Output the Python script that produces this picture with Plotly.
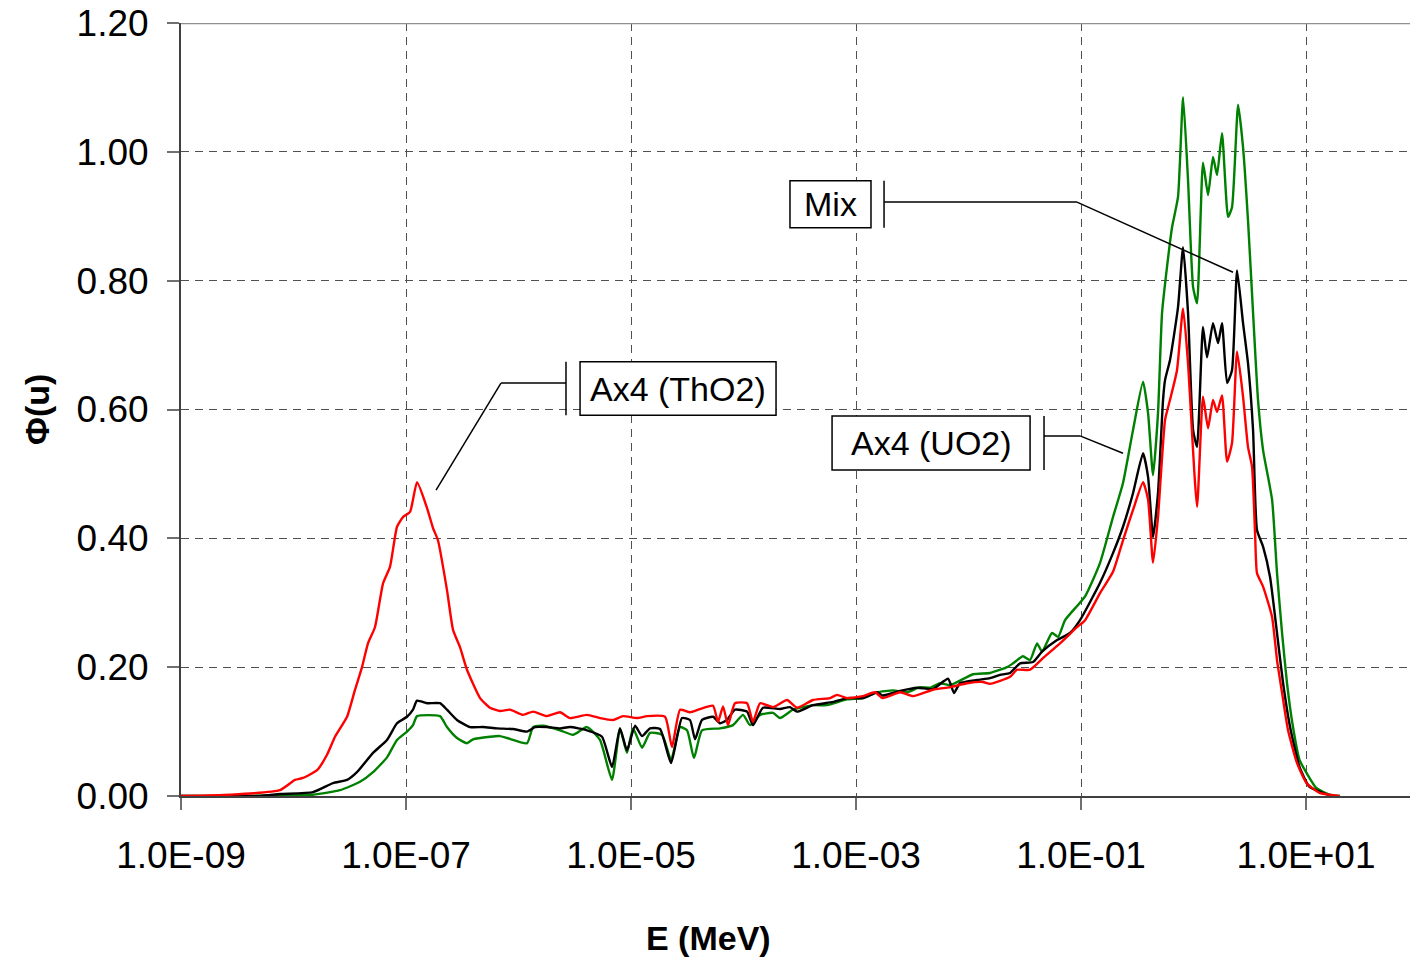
import numpy as np
import plotly.graph_objects as go

# Flux per unit lethargy vs. neutron energy; energies stored as log10(E / MeV)
thO2_logE = [-9.0, -8.564, -8.12, -7.987, -7.916, -7.791, -7.702, -7.631, -7.524, -7.453,
             -7.391, -7.338, -7.276, -7.204, -7.142, -7.080, -7.027, -6.964, -6.902, -6.813,
             -6.760, -6.716, -6.636, -6.582, -6.520, -6.458, -6.342, -6.253, -6.164, -6.076,
             -5.960, -5.871, -5.747, -5.631, -5.542, -5.391, -5.276, -5.160, -5.071, -4.947,
             -4.858, -4.698, -4.636, -4.564, -4.476, -4.387, -4.271, -4.227, -4.182, -4.138,
             -4.076, -3.969, -3.916, -3.853, -3.738, -3.613, -3.524, -3.382, -3.231, -3.169,
             -3.080, -2.938, -2.831, -2.764, -2.609, -2.493, -2.316, -2.164, -2.013, -1.871,
             -1.809, -1.631, -1.569, -1.453, -1.338, -1.187, -1.036, -0.964, -0.831, -0.716,
             -0.627, -0.538, -0.449, -0.404, -0.360, -0.316, -0.253, -0.209, -0.147, -0.093,
             -0.049, 0.031, 0.084, 0.129, 0.173, 0.209, 0.253, 0.298, 0.342, 0.387,
             0.440, 0.484, 0.520, 0.547, 0.564, 0.618, 0.698, 0.742, 0.787, 0.840,
             0.920, 1.004, 1.120, 1.298]
thO2_phi = [0.0, 0.002, 0.009, 0.025, 0.028, 0.040, 0.064, 0.092, 0.123, 0.165,
            0.200, 0.237, 0.262, 0.330, 0.356, 0.418, 0.433, 0.441, 0.487, 0.447,
            0.416, 0.397, 0.320, 0.258, 0.231, 0.196, 0.152, 0.137, 0.132, 0.134,
            0.126, 0.131, 0.124, 0.130, 0.121, 0.126, 0.121, 0.118, 0.124, 0.121,
            0.124, 0.123, 0.076, 0.134, 0.130, 0.135, 0.140, 0.115, 0.139, 0.110,
            0.144, 0.144, 0.115, 0.144, 0.138, 0.149, 0.137, 0.149, 0.152, 0.157,
            0.152, 0.155, 0.161, 0.152, 0.161, 0.155, 0.165, 0.169, 0.175, 0.177,
            0.174, 0.185, 0.196, 0.196, 0.214, 0.237, 0.262, 0.273, 0.315, 0.348,
            0.397, 0.444, 0.487, 0.460, 0.362, 0.433, 0.584, 0.615, 0.661, 0.757,
            0.672, 0.449, 0.620, 0.571, 0.615, 0.596, 0.622, 0.519, 0.548, 0.690,
            0.620, 0.542, 0.511, 0.408, 0.346, 0.325, 0.278, 0.211, 0.160, 0.102,
            0.051, 0.020, 0.005, 0.0]

mix_logE = [-9.0, -8.298, -8.12, -7.827, -7.649, -7.524, -7.436, -7.293, -7.169, -7.080,
            -6.991, -6.938, -6.902, -6.813, -6.698, -6.636, -6.547, -6.431, -6.316, -6.191,
            -6.049, -5.924, -5.853, -5.747, -5.631, -5.542, -5.391, -5.258, -5.169, -5.098,
            -5.036, -4.964, -4.902, -4.831, -4.742, -4.644, -4.547, -4.476, -4.431, -4.369,
            -4.271, -4.209, -4.147, -4.076, -3.969, -3.916, -3.827, -3.676, -3.587, -3.524,
            -3.382, -3.204, -3.080, -2.938, -2.813, -2.764, -2.609, -2.458, -2.316, -2.182,
            -2.129, -2.076, -1.924, -1.809, -1.720, -1.631, -1.542, -1.427, -1.347, -1.213,
            -1.098, -1.009, -0.831, -0.716, -0.627, -0.538, -0.449, -0.404, -0.360, -0.316,
            -0.271, -0.253, -0.209, -0.138, -0.093, -0.049, -0.004, 0.031, 0.084, 0.120,
            0.173, 0.218, 0.253, 0.298, 0.342, 0.387, 0.440, 0.484, 0.529, 0.564,
            0.618, 0.680, 0.742, 0.796, 0.858, 0.942, 1.031, 1.147, 1.236]
mix_phi = [0.0, 0.0, 0.003, 0.006, 0.020, 0.025, 0.037, 0.067, 0.087, 0.113,
           0.123, 0.134, 0.148, 0.144, 0.144, 0.134, 0.118, 0.107, 0.107, 0.105,
           0.104, 0.100, 0.107, 0.107, 0.105, 0.107, 0.102, 0.092, 0.045, 0.105,
           0.071, 0.109, 0.093, 0.105, 0.104, 0.051, 0.121, 0.118, 0.088, 0.118,
           0.123, 0.113, 0.118, 0.134, 0.131, 0.110, 0.137, 0.135, 0.138, 0.131,
           0.141, 0.146, 0.152, 0.152, 0.161, 0.156, 0.163, 0.168, 0.166, 0.182,
           0.160, 0.175, 0.180, 0.183, 0.188, 0.191, 0.206, 0.208, 0.224, 0.242,
           0.253, 0.273, 0.331, 0.377, 0.418, 0.470, 0.532, 0.495, 0.402, 0.470,
           0.615, 0.646, 0.677, 0.759, 0.852, 0.750, 0.568, 0.542, 0.728, 0.681,
           0.734, 0.703, 0.734, 0.641, 0.661, 0.816, 0.734, 0.672, 0.568, 0.413,
           0.387, 0.340, 0.253, 0.175, 0.107, 0.045, 0.014, 0.005, 0.0]

uo2_logE = [-9.0, -7.827, -7.587, -7.409, -7.293, -7.169, -7.080, -6.991, -6.938, -6.902,
            -6.698, -6.636, -6.547, -6.458, -6.404, -6.253, -6.164, -6.102, -5.924, -5.871,
            -5.782, -5.631, -5.516, -5.391, -5.276, -5.169, -5.098, -5.036, -4.982, -4.902,
            -4.831, -4.724, -4.644, -4.564, -4.502, -4.440, -4.369, -4.209, -4.093, -4.004,
            -3.942, -3.853, -3.738, -3.676, -3.560, -3.382, -3.258, -3.080, -2.938, -2.813,
            -2.671, -2.547, -2.431, -2.342, -2.253, -2.164, -1.960, -1.809, -1.658, -1.604,
            -1.516, -1.453, -1.391, -1.347, -1.258, -1.204, -1.142, -0.964, -0.831, -0.716,
            -0.627, -0.538, -0.449, -0.404, -0.360, -0.316, -0.280, -0.236, -0.191, -0.138,
            -0.093, -0.049, -0.004, 0.031, 0.084, 0.129, 0.173, 0.209, 0.253, 0.307,
            0.342, 0.396, 0.440, 0.484, 0.529, 0.573, 0.618, 0.698, 0.742, 0.787,
            0.831, 0.884, 0.942, 1.004, 1.093, 1.209, 1.300]
uo2_phi = [0.0, 0.002, 0.009, 0.022, 0.037, 0.060, 0.087, 0.100, 0.110, 0.124,
           0.124, 0.107, 0.090, 0.082, 0.088, 0.092, 0.093, 0.090, 0.082, 0.107,
           0.109, 0.102, 0.095, 0.107, 0.087, 0.025, 0.105, 0.067, 0.105, 0.075,
           0.098, 0.095, 0.056, 0.107, 0.102, 0.059, 0.102, 0.105, 0.110, 0.126,
           0.110, 0.126, 0.129, 0.121, 0.134, 0.141, 0.141, 0.150, 0.152, 0.161,
           0.164, 0.161, 0.169, 0.168, 0.175, 0.172, 0.189, 0.191, 0.200, 0.206,
           0.217, 0.211, 0.237, 0.224, 0.253, 0.247, 0.273, 0.310, 0.362, 0.433,
           0.486, 0.568, 0.643, 0.594, 0.498, 0.594, 0.750, 0.821, 0.883, 0.930,
           1.085, 0.956, 0.790, 0.765, 0.983, 0.933, 0.992, 0.964, 1.029, 0.899,
           0.914, 1.073, 1.007, 0.894, 0.750, 0.615, 0.537, 0.460, 0.346, 0.253,
           0.175, 0.107, 0.056, 0.036, 0.012, 0.002, 0.0]

x_tick_exp = [-9, -7, -5, -3, -1, 1]
x_tick_text = ["1.0E-09", "1.0E-07", "1.0E-05", "1.0E-03", "1.0E-01", "1.0E+01"]
y_ticks = [0.0, 0.2, 0.4, 0.6, 0.8, 1.0, 1.2]

FONT = "Liberation Sans, Arial, sans-serif"
X_RANGE = [-9.0, 1.924]
W, H = 1410, 959
M_L, M_R, M_T, M_B = 181, 0, 23, 163


def xp(log_e):
    """Map log10(E) onto the paper fraction of the plot width."""
    return (log_e - X_RANGE[0]) / (X_RANGE[1] - X_RANGE[0])


fig = go.Figure()
for logE, phi, colour in [(uo2_logE, uo2_phi, "#008000"),
                          (mix_logE, mix_phi, "#000000"),
                          (thO2_logE, thO2_phi, "#FF0000")]:
    fig.add_trace(go.Scatter(
        x=np.power(10.0, logE), y=phi, mode="lines",
        line=dict(color=colour, width=2.4, shape="spline", smoothing=0.5),
        showlegend=False, hoverinfo="skip"))

grid = dict(showgrid=True, gridcolor="#505050", gridwidth=1, griddash="8px,6px")

fig.update_xaxes(
    type="log", range=X_RANGE,
    tickvals=[10.0 ** e for e in x_tick_exp], ticktext=x_tick_text,
    showline=True, linecolor="#404040", linewidth=2,
    ticks="outside", ticklen=12, tickwidth=2, tickcolor="#707070",
    tickfont=dict(family=FONT, size=37, color="#000000"),
    ticklabelstandoff=14, zeroline=False, **grid)

fig.update_yaxes(
    range=[0, 1.2], tickvals=y_ticks, tickformat=".2f",
    showline=True, linecolor="#404040", linewidth=2,
    ticks="outside", ticklen=12, tickwidth=2, tickcolor="#707070",
    tickfont=dict(family=FONT, size=37, color="#000000"),
    ticklabelstandoff=11, zeroline=False, **grid)

shapes = [dict(type="line", xref="paper", yref="y", x0=0, x1=1, y0=1.2, y1=1.2,
               line=dict(color="#909090", width=2.5))]
annotations = []

# Callout boxes with bracketed leader lines (positions in log10(E), Φ)
callouts = [
    # text, box x0, box x1, box y0, box y1, bar x, elbow x, line y, tip x, tip y
    ("Ax4 (ThO2)", -5.453, -3.711, 0.591, 0.674, -5.578, -6.156, 0.641, -6.733, 0.475),
    ("Mix", -3.587, -2.867, 0.882, 0.955, -2.751, -1.036, 0.922, 0.351, 0.813),
    ("Ax4 (UO2)", -3.213, -1.453, 0.506, 0.590, -1.329, -1.009, 0.559, -0.627, 0.532),
]
LEADER = dict(color="#000000", width=1.5)
for text, bx0, bx1, by0, by1, barx, elbx, ly, tipx, tipy in callouts:
    shapes.append(dict(type="rect", xref="paper", yref="y", x0=xp(bx0), x1=xp(bx1),
                       y0=by0, y1=by1, line=LEADER, fillcolor="white", layer="above"))
    shapes.append(dict(type="line", xref="paper", yref="y", x0=xp(barx), x1=xp(barx),
                       y0=by0, y1=by1, line=LEADER))
    shapes.append(dict(type="line", xref="paper", yref="y", x0=xp(barx), x1=xp(elbx),
                       y0=ly, y1=ly, line=LEADER))
    shapes.append(dict(type="line", xref="paper", yref="y", x0=xp(elbx), x1=xp(tipx),
                       y0=ly, y1=tipy, line=LEADER))
    annotations.append(dict(x=xp((bx0 + bx1) / 2), y=(by0 + by1) / 2, xref="paper", yref="y",
                            xanchor="center", yanchor="middle",
                            text=text, showarrow=False,
                            font=dict(family=FONT, size=34, color="#000000")))

# Axis titles, placed relative to the plot frame
plot_w = W - M_L - M_R
plot_h = H - M_T - M_B
annotations.append(dict(x=(708 - M_L) / plot_w, y=-(938 - (H - M_B)) / plot_h,
                        xref="paper", yref="paper", xanchor="center", yanchor="middle",
                        text="<b>E (MeV)</b>", showarrow=False,
                        font=dict(family=FONT, size=34, color="#000000")))
annotations.append(dict(x=-(M_L - 37) / plot_w, y=((H - M_B) - 410) / plot_h,
                        xref="paper", yref="paper", xanchor="center", yanchor="middle",
                        text="<b>Φ(u)</b>", showarrow=False, textangle=-90,
                        font=dict(family=FONT, size=34, color="#000000")))

fig.update_layout(
    width=W, height=H,
    margin=dict(l=M_L, r=M_R, t=M_T, b=M_B),
    plot_bgcolor="white", paper_bgcolor="white",
    font=dict(family=FONT),
    shapes=shapes, annotations=annotations,
)

fig.write_html("out.html")
